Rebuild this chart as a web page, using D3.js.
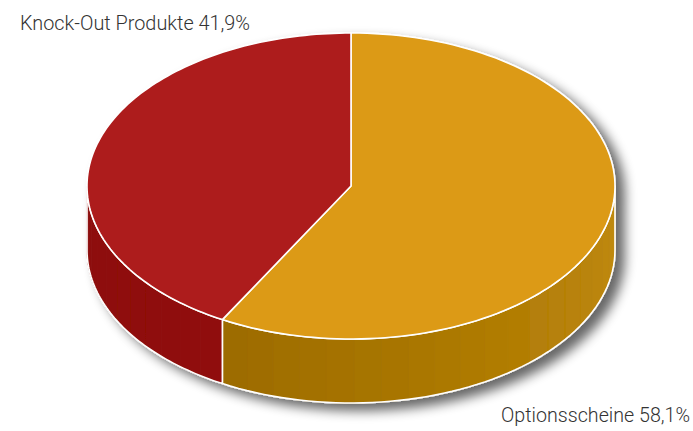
<!DOCTYPE html>
<html><head><meta charset="utf-8">
<script src="https://cdn.jsdelivr.net/npm/d3@7"></script>
<style>html,body{margin:0;padding:0;background:#fff;}svg{display:block;}</style>
</head><body>
<svg id="c" width="693" height="431"></svg>
<script>
const categories = ["Optionsscheine", "Knock-Out Produkte"];
const values = [58.1, 41.9];
const labels = ["Optionsscheine 58,1%", "Knock-Out Produkte 41,9%"];
const topColors = ["#dc9a14", "#ad1b1c"];
const sideDark = ["#9c6b00", "#8d1009"];
const sideLight = ["#c28b0b", "#901109"];

const svg = d3.select("#c");
const cx = 351, cy = 186, rx = 264, ry = 153, depth = 64;

const defs = svg.append("defs");
const f = defs.append("filter").attr("id","sh").attr("x","-20%").attr("y","-20%").attr("width","150%").attr("height","150%");
f.append("feGaussianBlur").attr("in","SourceAlpha").attr("stdDeviation",6).attr("result","b");
f.append("feOffset").attr("in","b").attr("dx",9).attr("dy",7).attr("result","o");
f.append("feComponentTransfer").attr("in","o").attr("result","o2")
  .append("feFuncA").attr("type","linear").attr("slope",0.6);
const m = f.append("feMerge");
m.append("feMergeNode").attr("in","o2");
m.append("feMergeNode").attr("in","SourceGraphic");

const pie = d3.pie().sort(null).value(d => d)(values);
const P = (a, dy=0) => [cx + rx*Math.sin(a), cy - ry*Math.cos(a) + dy];

const g = svg.append("g").attr("filter","url(#sh)");

pie.forEach((s, i) => {
  const a0 = Math.max(s.startAngle, Math.PI/2), a1 = Math.min(s.endAngle, 3*Math.PI/2);
  if (a1 <= a0) return;
  const n = Math.max(2, Math.ceil((a1-a0)/(Math.PI/30)));
  const col = d3.scaleLinear().domain([a1, a0]).range([sideDark[i], sideLight[i]]).interpolate(d3.interpolateRgb);
  for (let k=0;k<n;k++){
    const b0 = a0 + (a1-a0)*k/n, b1 = a0 + (a1-a0)*(k+1)/n;
    const pts=[];
    const steps=6;
    for(let j=0;j<=steps;j++) pts.push(P(b0+(b1-b0)*j/steps));
    for(let j=steps;j>=0;j--) pts.push(P(b0+(b1-b0)*j/steps, depth));
    const c = col((b0+b1)/2);
    g.append("path").attr("d", d3.line()(pts)+"Z").attr("fill", c).attr("stroke", c).attr("stroke-width",0.8);
  }
  const pts=[];
  const steps=60;
  for(let j=0;j<=steps;j++) pts.push(P(a0+(a1-a0)*j/steps));
  for(let j=steps;j>=0;j--) pts.push(P(a0+(a1-a0)*j/steps, depth));
  g.append("path").attr("d", d3.line()(pts)+"Z").attr("fill","none").attr("stroke","#fff").attr("stroke-width",1.6).attr("stroke-linejoin","round");
});

pie.forEach((s, i) => {
  const pts=[[cx,cy]];
  const steps=120;
  for(let j=0;j<=steps;j++) pts.push(P(s.startAngle+(s.endAngle-s.startAngle)*j/steps));
  g.append("path").attr("d", d3.line()(pts)+"Z").attr("fill", topColors[i])
    .attr("stroke","#fff").attr("stroke-width",1.6).attr("stroke-linejoin","round");
});

const font = "Roboto, sans-serif";
svg.append("text").attr("x",20).attr("y",30).text(labels[1])
  .attr("font-family",font).attr("font-size",20).attr("font-weight",300).attr("fill","#333")
  .attr("textLength",230).attr("lengthAdjust","spacingAndGlyphs");
svg.append("text").attr("x",501).attr("y",422).text(labels[0])
  .attr("font-family",font).attr("font-size",20).attr("font-weight",300).attr("fill","#333")
  .attr("textLength",189).attr("lengthAdjust","spacingAndGlyphs");
</script>
</body></html>
